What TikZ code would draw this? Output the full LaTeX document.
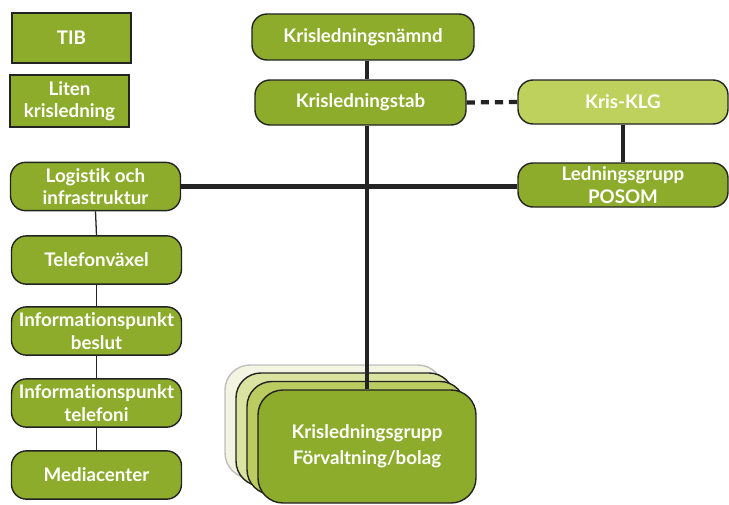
\documentclass[tikz,border=0pt]{standalone}
\usepackage{fontspec}
\setsansfont{Lato}[Ligatures=NoCommon]
\usetikzlibrary{positioning}
\definecolor{olive}{RGB}{141,172,44}
\definecolor{lightolive}{RGB}{190,209,92}
\definecolor{stackA}{RGB}{243,245,226}
\definecolor{stackB}{RGB}{218,228,160}
\definecolor{stackC}{RGB}{186,204,96}
\definecolor{edgegray}{RGB}{35,35,35}

\begin{document}
\begin{tikzpicture}[
    x=0.03cm, y=-0.03cm,
    unit/.style={draw=edgegray, line width=1.2pt, fill=olive, text=white, align=center,
        font=\sffamily\bfseries\fontsize{16}{19}\selectfont, inner sep=0pt,
        rounded corners=0.45cm},
    squarebox/.style={unit, rounded corners=0pt, minimum width=3.57cm},
    leftbox/.style={unit, minimum width=5.1cm, minimum height=1.45cm},
    stackbox/.style={unit, rounded corners=0.75cm, minimum width=6.54cm, minimum height=3.39cm,
        font=\sffamily\bfseries\fontsize{16}{22}\selectfont},
    mainline/.style={line width=3.6pt, draw=edgegray},
    thinline/.style={line width=1.1pt, draw=edgegray}
]
\useasboundingbox (0,0) rectangle (729,505);

% Special units
\node[squarebox, minimum height=1.5cm] (tib) at (71.5,38) {TIB};
\node[squarebox, minimum height=1.56cm] (liten) at (69.5,101) {Liten\\krisledning};

% Top of the organisation
\node[unit, minimum width=6.66cm, minimum height=1.38cm] (namnd) at (363,37) {Krisledningsnämnd};
\node[unit, minimum width=6.33cm, minimum height=1.35cm] (stab) at (360.5,102.5) {Krisledningstab};
\node[unit, fill=lightolive, minimum width=6.3cm, minimum height=1.32cm] (klg) at (623,102) {Kris-KLG};
\node[unit, minimum width=6.3cm, minimum height=1.32cm] (posom) at (623,185) {Ledningsgrupp\\POSOM};

% Left column
\node[leftbox] (logistik) at (95.5,186.5) {Logistik och\\infrastruktur};
\node[leftbox] (telefon) at (96.5,260) {Telefonväxel};
\node[leftbox] (beslut) at (96.5,331) {Informationspunkt\\beslut};
\node[leftbox] (telefoni) at (96.5,403) {Informationspunkt\\telefoni};
\node[leftbox] (media) at (96.5,475) {Mediacenter};

% Stacked groups
\node[stackbox, fill=stackA, draw=black!25] (layerA) at (334,421.5) {};
\node[stackbox, fill=stackB] (layerB) at (345,429.5) {};
\node[stackbox, fill=stackC] (layerC) at (356,438) {};
\node[stackbox] (front) at (367,446.5) {Krisledningsgrupp\\Förvaltning/bolag};

% Connections
\draw[mainline] (front.north |- namnd.south) -- (front.north |- stab.north);
\draw[mainline] (front.north |- stab.south) -- (front.north);
\draw[mainline] (logistik.east) -- (logistik.east -| posom.west);
\draw[mainline, dash pattern=on 7pt off 5pt] (stab.east) -- (klg.west);
\draw[mainline] (klg.south) -- (posom.north);
\draw[thinline] (logistik.south) -- (telefon.north);
\draw[thinline] (telefon.south) -- (beslut.north);
\draw[thinline] (beslut.south) -- (telefoni.north);
\draw[thinline] (telefoni.south) -- (media.north);

\end{tikzpicture}
\end{document}
